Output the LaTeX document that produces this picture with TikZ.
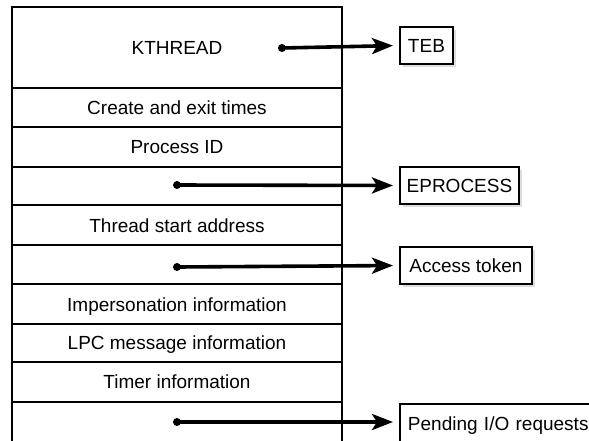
\documentclass[tikz,border=0pt]{standalone}
\usepackage{fontspec}
\setmainfont{Liberation Sans}
\usetikzlibrary{arrows.meta,shadows}
\begin{document}
\begin{tikzpicture}[x=1pt,y=-1pt,
  every node/.style={font=\fontsize{19}{22}\selectfont},
  rowtext/.style={inner sep=0pt, text height=13.5pt, text depth=0pt},
  outer/.style={line width=2.6pt},
  sep/.style={line width=1.9pt},
  target/.style={draw, line width=1.9pt, fill=white, anchor=west, minimum height=37pt,
    inner sep=0pt, text height=13.5pt, text depth=0pt,
    drop shadow={shadow xshift=3pt, shadow yshift=-3pt, fill=gray!45, opacity=0.6}},
  ptr/.style={line width=3.6pt, -{Stealth[length=21pt,width=16pt,inset=5pt]}, shorten >=6pt},
  dot/.style={circle, fill, inner sep=0pt, minimum size=8pt}
]
\useasboundingbox (0,0) rectangle (589,440);
% main column
\draw[outer] (12,444) -- (12,7) -- (342,7) -- (342,444);
\foreach \y in {88,127,167,205,245,284,324,362,402}
  \draw[sep] (12,\y) -- (342,\y);
% row texts
\node[rowtext] (kt)  at (177,48)  {KTHREAD};
\node[rowtext] (cet) at (177,108) {Create and exit times};
\node[rowtext] (pid) at (177,147) {Process ID};
\node[rowtext] (tsa) at (177,226) {Thread start address};
\node[rowtext] (imp) at (177,305) {Impersonation information};
\node[rowtext] (lpc) at (177,343) {LPC message information};
\node[rowtext] (tim) at (177,382) {Timer information};
% pointer origins
\node[dot] (d1) at (282,48) {};
\node[dot] (d2) at (177,185) {};
\node[dot] (d3) at (177,267) {};
\node[dot] (d4) at (177,422) {};
% targets
\node[target, minimum width=53pt]  (teb) at (399,45.5) {TEB};
\node[target, minimum width=119pt] (epr) at (399,185.5) {EPROCESS};
\node[target, minimum width=132pt] (acc) at (399,265.5) {Access token};
\node[target, anchor=north west, minimum height=40pt, text width=230pt, align=left,
      inner xsep=8pt] (pen) at (399,403) {Pending I/O requests};
% connectors
\draw[ptr] (d1.center) -- (teb.west);
\draw[ptr] (d2.center) -- (epr.west);
\draw[ptr] (d3.center) -- (acc.west);
\draw[ptr] (d4.center) -- (d4.center -| pen.west);
\end{tikzpicture}
\end{document}
